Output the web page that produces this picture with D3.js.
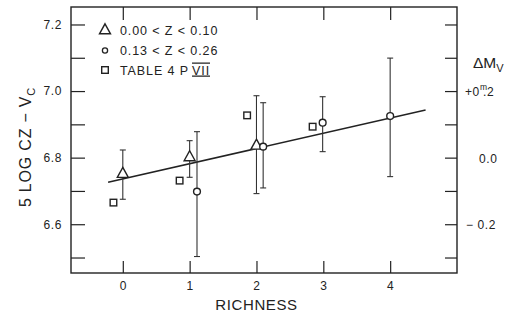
<!DOCTYPE html>
<html>
<head>
<meta charset="utf-8">
<script src="https://cdn.jsdelivr.net/npm/d3@7"></script>
<style>
  body { margin: 0; background: #fff; }
  svg { display: block; font-family: "Liberation Sans", Arial, sans-serif; }
  .tick text { fill: #222; font-size: 12px; letter-spacing: 0.6px; }
  .tick line { stroke: #222; stroke-width: 1.2; }
</style>
</head>
<body>
<svg id="chart" width="520" height="316"></svg>
<script>
// triangles: 0.00 < z < 0.10
var triX = [0, 1, 2];
var triY = [6.752, 6.802, 6.837];
var triLo = [6.675, 6.741, 6.692];
var triHi = [6.823, 6.851, 6.986];

// circles: 0.13 < z < 0.26
var circX = [1.11, 2.1, 2.99, 4.0];
var circY = [6.698, 6.833, 6.905, 6.925];
var circLo = [6.503, 6.709, 6.818, 6.743];
var circHi = [6.878, 6.965, 6.983, 7.099];

// squares: table 4, paper VII
var sqX = [-0.14, 0.85, 1.86, 2.84];
var sqY = [6.665, 6.731, 6.927, 6.893];

// fitted line
var lineX = [-0.22, 4.53];
var lineY = [6.726, 6.943];

var xTicks = [0, 1, 2, 3, 4];
var yTicks = [6.5, 6.6, 6.7, 6.8, 6.9, 7.0, 7.1, 7.2];
var yLabels = [6.6, 6.8, 7.0, 7.2];
var rTicks = [-0.3, -0.2, -0.1, 0, 0.1, 0.2, 0.3, 0.4];

var legendLabels = ["0.00 < Z < 0.10", "0.13 < Z < 0.26", "TABLE 4 P"];

var svg = d3.select("#chart");
var ink = "#222";

var pLeft = 71, pRight = 457, pTop = 7, pBottom = 273;

var x = d3.scaleLinear().domain([-0.775, 5.0]).range([pLeft, pRight]);
var y = d3.scaleLinear().domain([6.4535, 7.2525]).range([pBottom, pTop]);
var yR = d3.scaleLinear().domain([6.4535 - 6.8, 7.2525 - 6.8]).range([pBottom, pTop]);

function fmtY(d) {
  return yLabels.some(function(v) { return Math.abs(v - d) < 1e-6; }) ? d3.format(".1f")(d) : "";
}

svg.append("g").attr("transform", "translate(" + pLeft + ",0)")
  .call(d3.axisLeft(y).tickValues(yTicks).tickFormat(fmtY).tickSize(-14).tickPadding(9))
  .call(function(g) { g.select(".domain").remove(); });

svg.append("g").attr("transform", "translate(" + pRight + ",0)")
  .call(d3.axisRight(yR).tickValues(rTicks).tickFormat("").tickSize(-12))
  .call(function(g) { g.select(".domain").remove(); });

svg.append("g").attr("transform", "translate(0," + pBottom + ")")
  .call(d3.axisBottom(x).tickValues(xTicks).tickFormat(d3.format("d")).tickSize(-12).tickPadding(8))
  .call(function(g) { g.select(".domain").remove(); });

svg.append("g").attr("transform", "translate(0," + pTop + ")")
  .call(d3.axisTop(x).tickValues(xTicks).tickFormat("").tickSize(-13))
  .call(function(g) { g.select(".domain").remove(); });

// frame
svg.append("rect")
  .attr("x", pLeft).attr("y", pTop)
  .attr("width", pRight - pLeft).attr("height", pBottom - pTop)
  .attr("fill", "none").attr("stroke", ink).attr("stroke-width", 1.4);

// right axis labels
var rl = svg.append("g").attr("fill", ink).attr("font-size", 12).attr("letter-spacing", 0.6);
var t1 = rl.append("text").attr("x", 465).attr("y", yR(0.2) + 5);
t1.append("tspan").text("+0");
t1.append("tspan").attr("font-size", 8.5).attr("dy", -6).attr("letter-spacing", 0).text("m");
t1.append("tspan").attr("dy", 6).attr("dx", -4).text(".2");
rl.append("text").attr("x", 479).attr("y", yR(0) + 5).text("0.0");
rl.append("text").attr("x", 466).attr("y", yR(-0.2) + 5).text("\u2212 0.2");

var dm = svg.append("text").attr("x", 473).attr("y", 68).attr("fill", ink).attr("font-size", 15.5);
dm.append("tspan").text("\u0394M");
dm.append("tspan").attr("font-size", 11).attr("dy", 4).text("V");

// axis titles
svg.append("text")
  .attr("x", x(2)).attr("y", 310)
  .attr("text-anchor", "middle").attr("fill", ink)
  .attr("font-size", 15).attr("letter-spacing", 0.6)
  .text("RICHNESS");

var yt = svg.append("text")
  .attr("transform", "translate(31,147) rotate(-90)")
  .attr("text-anchor", "middle").attr("fill", ink)
  .attr("font-size", 16).attr("letter-spacing", 0.8);
yt.append("tspan").text("5 LOG CZ \u2212 V");
yt.append("tspan").attr("font-size", 11).attr("dy", 4).text("C");

// fitted line
var lineData = lineX.map(function(v, i) { return [v, lineY[i]]; });
svg.append("path")
  .attr("d", d3.line().x(function(d) { return x(d[0]); }).y(function(d) { return y(d[1]); })(lineData))
  .attr("fill", "none").attr("stroke", ink).attr("stroke-width", 1.5);

// error bars
function errorBars(xs, lo, hi) {
  var g = svg.append("g").attr("stroke", "#333").attr("stroke-width", 1.1);
  xs.forEach(function(v, i) {
    g.append("line").attr("x1", x(v)).attr("x2", x(v)).attr("y1", y(lo[i])).attr("y2", y(hi[i]));
    g.append("line").attr("x1", x(v) - 3).attr("x2", x(v) + 3).attr("y1", y(lo[i])).attr("y2", y(lo[i]));
    g.append("line").attr("x1", x(v) - 3).attr("x2", x(v) + 3).attr("y1", y(hi[i])).attr("y2", y(hi[i]));
  });
}
errorBars(triX, triLo, triHi);
errorBars(circX, circLo, circHi);

function triPath(cx, cy, s) {
  return "M" + cx + "," + (cy - s * 0.62) + "L" + (cx + s * 0.55) + "," + (cy + s * 0.38) +
    "L" + (cx - s * 0.55) + "," + (cy + s * 0.38) + "Z";
}

var marks = svg.append("g").attr("fill", "#fff").attr("stroke", ink).attr("stroke-width", 1.4);
triX.forEach(function(v, i) {
  marks.append("path").attr("d", triPath(x(v), y(triY[i]), 10));
});
circX.forEach(function(v, i) {
  marks.append("circle").attr("cx", x(v)).attr("cy", y(circY[i])).attr("r", 3.4);
});
sqX.forEach(function(v, i) {
  marks.append("rect").attr("x", x(v) - 3.3).attr("y", y(sqY[i]) - 3.3).attr("width", 6.6).attr("height", 6.6);
});

// legend
var lg = svg.append("g");
lg.append("path").attr("d", triPath(105, 30, 10)).attr("fill", "#fff").attr("stroke", ink).attr("stroke-width", 1.4);
lg.append("circle").attr("cx", 105).attr("cy", 50.5).attr("r", 2.6).attr("fill", "#fff").attr("stroke", ink).attr("stroke-width", 1.3);
lg.append("rect").attr("x", 101.7).attr("y", 66.7).attr("width", 6.6).attr("height", 6.6).attr("fill", "#fff").attr("stroke", ink).attr("stroke-width", 1.4);

var ly = [34.5, 55, 74.5];
legendLabels.forEach(function(t, i) {
  var tx = lg.append("text").attr("x", 120).attr("y", ly[i]).attr("fill", ink)
    .attr("font-size", 12.5).attr("letter-spacing", 0.9);
  tx.append("tspan").text(t);
  if (i === 2) {
    tx.append("tspan").attr("dx", 3).attr("text-decoration", "underline overline").text("VII");
  }
});
</script>
</body>
</html>
